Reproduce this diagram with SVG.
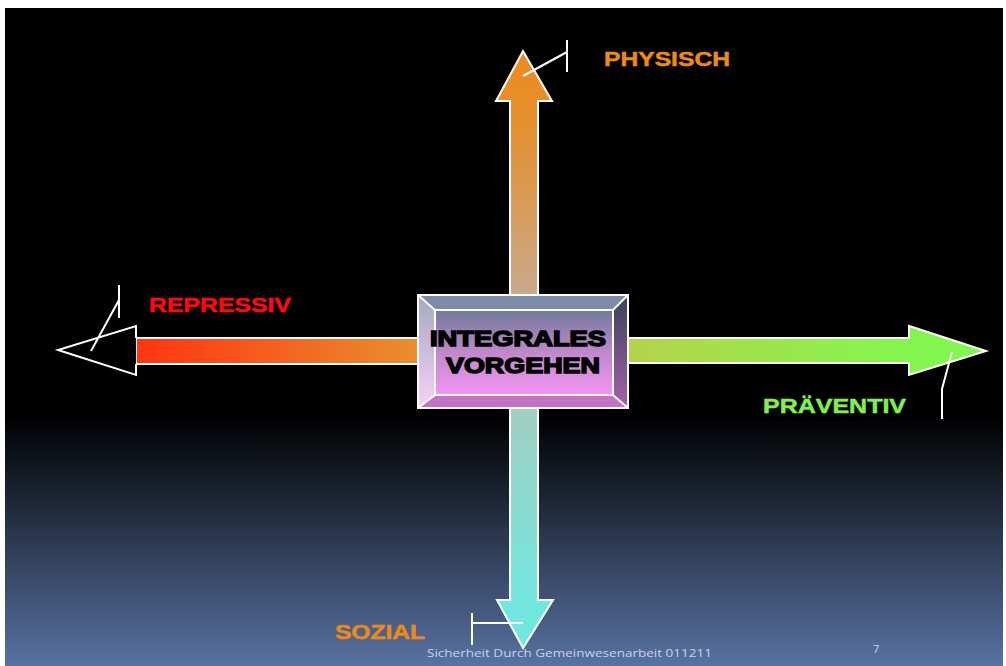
<svg xmlns="http://www.w3.org/2000/svg" width="1006" height="666" viewBox="0 0 1006 666">
<defs>
<linearGradient id="bg" x1="0" y1="8" x2="0" y2="666" gradientUnits="userSpaceOnUse">
<stop offset="0" stop-color="#000"/>
<stop offset="0.62" stop-color="#000"/>
<stop offset="1" stop-color="#5872a2"/>
</linearGradient>
<linearGradient id="gUp" x1="0" y1="52" x2="0" y2="300" gradientUnits="userSpaceOnUse">
<stop offset="0" stop-color="#ee8a1e"/>
<stop offset="0.3" stop-color="#e4902e"/>
<stop offset="1" stop-color="#c8aa8e"/>
</linearGradient>
<linearGradient id="gDown" x1="0" y1="405" x2="0" y2="648" gradientUnits="userSpaceOnUse">
<stop offset="0" stop-color="#a2cec0"/>
<stop offset="0.8" stop-color="#72e6de"/>
<stop offset="1" stop-color="#70e8e0"/>
</linearGradient>
<linearGradient id="gLeft" x1="137" y1="0" x2="420" y2="0" gradientUnits="userSpaceOnUse">
<stop offset="0" stop-color="#ff3412"/>
<stop offset="1" stop-color="#e8902e"/>
</linearGradient>
<linearGradient id="gRight" x1="626" y1="0" x2="986" y2="0" gradientUnits="userSpaceOnUse">
<stop offset="0" stop-color="#b6d24a"/>
<stop offset="0.75" stop-color="#84f64e"/>
<stop offset="1" stop-color="#80f850"/>
</linearGradient>
<linearGradient id="gFace" x1="0" y1="310" x2="0" y2="395" gradientUnits="userSpaceOnUse">
<stop offset="0" stop-color="#727a9a"/>
<stop offset="0.55" stop-color="#c68ad0"/>
<stop offset="1" stop-color="#f494f4"/>
</linearGradient>
<linearGradient id="gLeftBevel" x1="0" y1="295" x2="0" y2="408" gradientUnits="userSpaceOnUse">
<stop offset="0" stop-color="#a2aac2"/>
<stop offset="1" stop-color="#f8d0f8"/>
</linearGradient>
<linearGradient id="gRightBevel" x1="0" y1="295" x2="0" y2="408" gradientUnits="userSpaceOnUse">
<stop offset="0" stop-color="#3a4258"/>
<stop offset="1" stop-color="#a464a8"/>
</linearGradient>
<style>
.arrow{stroke:#fff;stroke-width:2;stroke-linejoin:miter}
.lead{stroke:#fff;stroke-width:2;fill:none}
.lbl{font-family:"Liberation Sans",Arial,sans-serif;font-weight:bold;font-size:21px;stroke-width:0.5}
.ctr{font-family:"Liberation Sans",Arial,sans-serif;font-weight:bold;font-size:22px;fill:#000;stroke:#000;stroke-width:1.5;text-anchor:middle}
.foot{font-family:"Open Sans","Noto Sans",sans-serif;font-size:11px;fill:#c8d2e6}
.edge{stroke:#fff;stroke-width:2;fill:none}
</style>
</defs>
<rect x="0" y="0" width="1006" height="666" fill="#fff"/>
<rect x="5" y="8" width="998" height="658" fill="url(#bg)"/>

<g id="connectors">
<path id="arrow-up" class="arrow" fill="url(#gUp)" d="M510,300 L510,101 L496,101 L523,51 L552,101 L538,101 L538,300 Z"/>
<path id="arrow-down" class="arrow" fill="url(#gDown)" d="M510,404 L510,600 L497,600 L523,648 L553,600 L538,600 L538,404 Z"/>
<path id="arrow-left-shaft" class="arrow" fill="url(#gLeft)" d="M420,338 L136,338 L136,364 L420,364 Z"/>
<path id="arrow-left-head" class="arrow" fill="#000" d="M136,338 L136,326 L58,350 L136,375 L136,364"/>
<path id="arrow-right" class="arrow" fill="url(#gRight)" d="M626,338 L909,338 L909,326 L986,351 L909,375 L909,363 L626,363 Z"/>
</g>

<g id="node-center">
<rect x="418" y="295" width="210" height="113" fill="#7c8ca6"/>
<polygon points="418,295 435,310 435,395 418,408" fill="url(#gLeftBevel)"/>
<polygon points="628,295 613,310 613,395 628,408" fill="url(#gRightBevel)"/>
<polygon points="418,408 435,395 613,395 628,408" fill="#c472c6"/>
<rect x="435" y="310" width="178" height="85" fill="url(#gFace)"/>
<rect class="edge" x="418" y="295" width="210" height="113"/>
<rect class="edge" x="435" y="310" width="178" height="85"/>
<path class="edge" d="M418,295 L435,310 M628,295 L613,310 M418,408 L435,395 M628,408 L613,395"/>
<text class="ctr" x="518" y="346" textLength="176" lengthAdjust="spacingAndGlyphs">INTEGRALES</text>
<text class="ctr" x="523" y="373" textLength="154" lengthAdjust="spacingAndGlyphs">VORGEHEN</text>
</g>

<g id="label-physisch">
<path class="lead" d="M523,76 L567,52 M567,40 L567,72"/>
<text class="lbl" x="604" y="66" fill="#ec8a16" stroke="#ec8a16" textLength="126" lengthAdjust="spacingAndGlyphs">PHYSISCH</text>
</g>

<g id="label-repressiv">
<path class="lead" d="M119,285 L119,318 M119,300 L91,351"/>
<text class="lbl" x="149" y="312" fill="#ff0a0a" stroke="#ff0a0a" textLength="142" lengthAdjust="spacingAndGlyphs">REPRESSIV</text>
</g>

<g id="label-praeventiv">
<path class="lead" d="M952,352 L942,389 L942,419"/>
<text class="lbl" x="763" y="413" fill="#80f050" stroke="#80f050" textLength="143" lengthAdjust="spacingAndGlyphs">PRÄVENTIV</text>
</g>

<g id="label-sozial">
<path class="lead" d="M472,613 L472,645 M472,623 L523,623"/>
<text class="lbl" x="335" y="639" fill="#ec8a16" stroke="#ec8a16" textLength="90" lengthAdjust="spacingAndGlyphs">SOZIAL</text>
</g>

<g id="footer">
<text class="foot" x="427" y="657" textLength="285" lengthAdjust="spacingAndGlyphs">Sicherheit Durch Gemeinwesenarbeit 011211</text>
<text class="foot" x="873" y="653">7</text>
</g>
</svg>
